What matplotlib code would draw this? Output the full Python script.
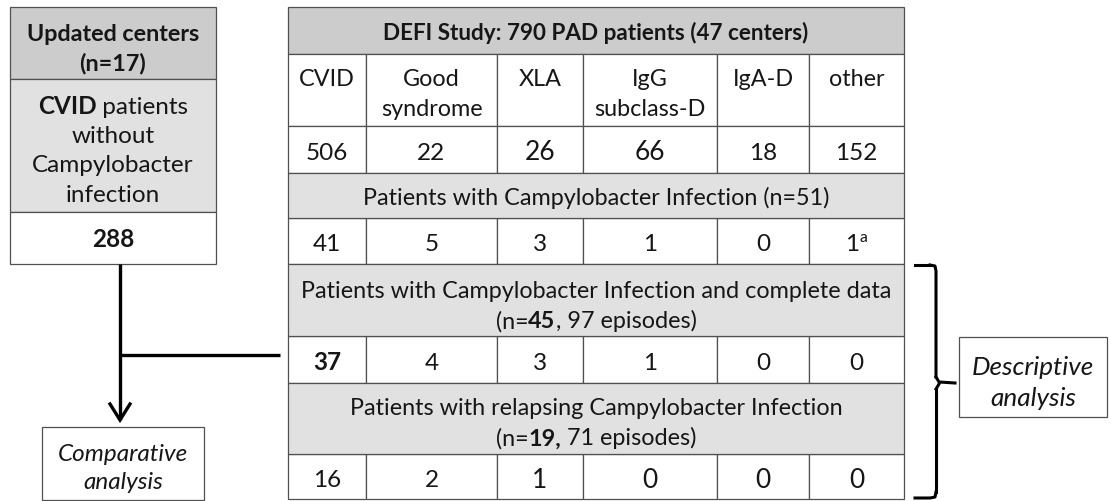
import matplotlib.pyplot as plt
from matplotlib.patches import Rectangle

plt.rcParams["font.family"] = ["Lato", "DejaVu Sans"]

# data  (** marks bold, ^^ marks superscript)
study_title = "DEFI Study: 790 PAD patients (47 centers)"
categories = ["CVID", "Good\nsyndrome", "XLA", "IgG\nsubclass-D", "IgA-D", "other"]
total_patients = ["506", "22", "26", "66", "18", "152"]
infected_title = "Patients with Campylobacter Infection (n=51)"
infected = ["41", "5", "3", "1", "0", "1^^a"]
complete_title = "Patients with Campylobacter Infection and complete data\n(n=**45**, 97 episodes)"
complete = ["**37**", "4", "3", "1", "0", "0"]
relapse_title = "Patients with relapsing Campylobacter Infection\n(n=**19,** 71 episodes)"
relapse = ["16", "2", "1", "0", "0", "0"]

left_title = "**Updated centers**\n**(n=17)**"
left_desc = "**CVID** patients\nwithout\nCampylobacter\ninfection"
left_count = "**288**"
comparative_label = "Comparative\nanalysis"
descriptive_label = "Descriptive\nanalysis"

# styling
DARK = "#cccccc"
LIGHT = "#e1e1e1"
EDGE = "#505050"
INK = "#161616"
FS = 16.8
NUM = 17.5
GAP = 29.5

fig = plt.figure(figsize=(11.11, 5.01), dpi=100)
ax = fig.add_axes([0, 0, 1, 1])
ax.set_xlim(0, 1111)
ax.set_ylim(501, 0)
ax.axis("off")
renderer = fig.canvas.get_renderer()


def parse(line):
    segs = []
    bold = False
    for i, part in enumerate(line.split("**")):
        if i > 0:
            bold = not bold
        sub = part.split("^^")
        for j, p in enumerate(sub):
            if p:
                segs.append((p, bold, j % 2 == 1))
    return segs


def rich_line(cx, cy, line, size, style="normal"):
    px = size * 100 / 72
    base = cy + 0.36 * px
    items = []
    for txt, bold, sup in parse(line):
        s = size * 0.65 if sup else size
        y = base - 0.38 * px if sup else base
        t = ax.text(0, y, txt, fontsize=s, fontweight="bold" if bold else "normal",
                    style=style, ha="left", va="baseline", color=INK)
        items.append(t)
    widths = [t.get_window_extent(renderer).width for t in items]
    x = cx - sum(widths) / 2
    for t, w in zip(items, widths):
        t.set_x(x)
        x += w


def block(cx, cy, text, size=FS, style="normal", gap=GAP):
    lines = text.split("\n")
    y0 = cy - gap * (len(lines) - 1) / 2
    for k, ln in enumerate(lines):
        rich_line(cx, y0 + k * gap, ln, size, style)


def cell(x0, x1, y0, y1, text, fill="white", size=FS, style="normal", top=None, dy=2.5, gap=GAP):
    ax.add_patch(Rectangle((x0, y0), x1 - x0, y1 - y0, facecolor=fill, edgecolor=EDGE, lw=0.9))
    if not text:
        return
    if top is not None:
        lines = text.split("\n")
        for k, ln in enumerate(lines):
            rich_line((x0 + x1) / 2, y0 + top + k * gap, ln, size, style)
    else:
        block((x0 + x1) / 2, (y0 + y1) / 2 + dy, text, size, style, gap)


# main table
cols = [288, 366, 497, 583, 717, 809, 904]
rows = [7, 54, 126, 173, 218, 264, 336, 383, 454, 499]

cell(cols[0], cols[-1], rows[0], rows[1], "**" + study_title + "**", fill=DARK, size=16.2, dy=1.5)
big = {(2, 2), (2, 3), (8, 2), (8, 3), (8, 4), (8, 5)}
for r, vals in [(1, categories), (2, total_patients), (4, infected), (6, complete), (8, relapse)]:
    for i, v in enumerate(vals):
        if r == 1:
            cell(cols[i], cols[i + 1], rows[r], rows[r + 1], v, top=24)
        else:
            cell(cols[i], cols[i + 1], rows[r], rows[r + 1], v,
                 size=NUM + 1.5 if (r, i) in big else NUM, dy=1.5)
cell(cols[0], cols[-1], rows[3], rows[4], infected_title, fill=LIGHT, dy=1.5)
cell(cols[0], cols[-1], rows[5], rows[6], complete_title, fill=LIGHT, dy=5, gap=30)
cell(cols[0], cols[-1], rows[7], rows[8], relapse_title, fill=LIGHT, dy=3.5, gap=30)

# left box
cell(10, 216, 7, 79, left_title, fill=DARK, dy=4.5)
cell(10, 216, 79, 212, left_desc, fill=LIGHT, size=17.5, dy=3.5, gap=29.3)
cell(10, 216, 212, 264, left_count, size=17.5, dy=0)

# connectors
ax.plot([120, 120], [264, 420], color="black", lw=2.4, solid_capstyle="butt")
ax.plot([120, 280], [355, 355], color="black", lw=2.4, solid_capstyle="butt")
ax.plot([110, 120, 130], [404, 420, 404], color="black", lw=2.4, solid_joinstyle="miter")

cell(42, 204, 427, 500, comparative_label, style="italic", size=17.5, dy=2.5, gap=28)
cell(959, 1107, 337, 417, descriptive_label, style="italic", size=18.8, dy=4, gap=31)

# brace
bx = 936
ax.plot([915, bx - 6], [265, 265], color="black", lw=2.2)
ax.plot([bx - 6, bx - 1, bx, bx], [265, 266, 271, 377], color="black", lw=2.2)
ax.plot([bx, bx + 3, 955], [377, 382, 383], color="black", lw=2.2)
ax.plot([bx, bx + 3], [389, 384], color="black", lw=2.2)
ax.plot([bx, bx], [389, 492], color="black", lw=2.2)
ax.plot([bx, bx - 1, bx - 6, 915], [492, 497, 498, 498], color="black", lw=2.2)

fig.savefig("out.png", dpi=100)
